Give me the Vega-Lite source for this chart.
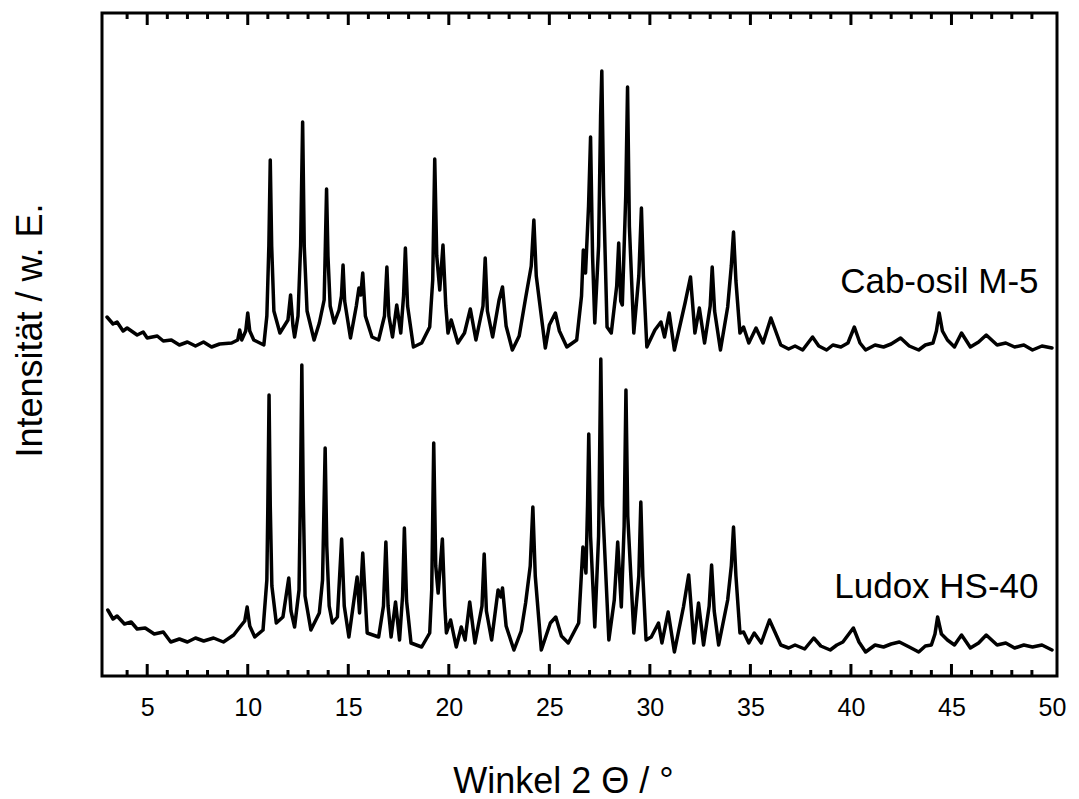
{
  "$schema": "https://vega.github.io/schema/vega-lite/v6.json",
  "width": 955,
  "height": 663,
  "autosize": "none",
  "padding": {"left": 102, "top": 13, "right": 22, "bottom": 123},
  "background": "white",
  "config": {"view": {"stroke": "black", "strokeWidth": 3}, "font": "Liberation Sans"},
  "encoding": {
    "x": {
      "field": "angle", "type": "quantitative",
      "scale": {"domain": [3, 50], "nice": false, "zero": false},
      "axis": {
        "orient": "bottom", "values": [5,10,15,20,25,30,35,40,45,50],
        "domain": false, "grid": false, "ticks": false,
        "labelFontSize": 25, "labelColor": "black", "labelPadding": 19, "labelFont": "Liberation Sans",
        "title": "Winkel 2 Θ / °", "titleFontSize": 36, "titleFontWeight": "normal", "titleColor": "black",
        "titleFont": "Liberation Sans", "titleX": 461, "titleY": 116, "titleBaseline": "alphabetic", "titleAlign": "center"
      }
    },
    "y": {
      "field": "value", "type": "quantitative",
      "scale": {"domain": [0, 663], "nice": false, "zero": false},
      "axis": {
        "orient": "left", "domain": false, "grid": false, "ticks": false, "labels": false,
        "title": "Intensität / w. E.", "titleFontSize": 36, "titleFontWeight": "normal", "titleColor": "black",
        "titleFont": "Liberation Sans", "titleX": -72, "titleY": 317, "titleBaseline": "middle", "titleAlign": "center", "titleAngle": -90
      }
    }
  },
  "layer": [
    {
      "data": {"values": [
      {"sample":"C","angle":3.0,"value":359},{"sample":"C","angle":3.3,"value":352},{"sample":"C","angle":3.5,"value":354},{"sample":"C","angle":3.8,"value":345},{"sample":"C","angle":4.0,"value":348},{"sample":"C","angle":4.5,"value":341},{"sample":"C","angle":4.8,"value":344},{"sample":"C","angle":5.0,"value":338},{"sample":"C","angle":5.5,"value":340},{"sample":"C","angle":5.8,"value":335},{"sample":"C","angle":6.2,"value":336},{"sample":"C","angle":6.6,"value":331},{"sample":"C","angle":7.0,"value":334},{"sample":"C","angle":7.4,"value":330},{"sample":"C","angle":7.8,"value":334},{"sample":"C","angle":8.2,"value":329},{"sample":"C","angle":8.6,"value":332},{"sample":"C","angle":9.2,"value":333},{"sample":"C","angle":9.5,"value":336},{"sample":"C","angle":9.6,"value":346},{"sample":"C","angle":9.7,"value":336},{"sample":"C","angle":9.9,"value":345},{"sample":"C","angle":10.0,"value":363},{"sample":"C","angle":10.1,"value":345},{"sample":"C","angle":10.3,"value":336},{"sample":"C","angle":10.8,"value":331},{"sample":"C","angle":10.95,"value":360},{"sample":"C","angle":11.05,"value":430},{"sample":"C","angle":11.12,"value":516},{"sample":"C","angle":11.19,"value":430},{"sample":"C","angle":11.3,"value":365},{"sample":"C","angle":11.6,"value":343},{"sample":"C","angle":12.0,"value":356},{"sample":"C","angle":12.13,"value":381},{"sample":"C","angle":12.25,"value":350},{"sample":"C","angle":12.33,"value":339},{"sample":"C","angle":12.5,"value":360},{"sample":"C","angle":12.63,"value":430},{"sample":"C","angle":12.73,"value":554},{"sample":"C","angle":12.81,"value":430},{"sample":"C","angle":12.95,"value":365},{"sample":"C","angle":13.3,"value":336},{"sample":"C","angle":13.56,"value":353},{"sample":"C","angle":13.8,"value":376},{"sample":"C","angle":13.86,"value":430},{"sample":"C","angle":13.92,"value":487},{"sample":"C","angle":13.99,"value":420},{"sample":"C","angle":14.1,"value":370},{"sample":"C","angle":14.3,"value":353},{"sample":"C","angle":14.54,"value":366},{"sample":"C","angle":14.66,"value":380},{"sample":"C","angle":14.74,"value":411},{"sample":"C","angle":14.82,"value":375},{"sample":"C","angle":15.11,"value":338},{"sample":"C","angle":15.4,"value":370},{"sample":"C","angle":15.53,"value":388},{"sample":"C","angle":15.62,"value":381},{"sample":"C","angle":15.72,"value":403},{"sample":"C","angle":15.85,"value":360},{"sample":"C","angle":16.18,"value":339},{"sample":"C","angle":16.51,"value":336},{"sample":"C","angle":16.8,"value":360},{"sample":"C","angle":16.92,"value":409},{"sample":"C","angle":17.02,"value":360},{"sample":"C","angle":17.2,"value":339},{"sample":"C","angle":17.41,"value":371},{"sample":"C","angle":17.61,"value":343},{"sample":"C","angle":17.75,"value":380},{"sample":"C","angle":17.84,"value":428},{"sample":"C","angle":17.95,"value":370},{"sample":"C","angle":18.24,"value":329},{"sample":"C","angle":18.65,"value":333},{"sample":"C","angle":19.05,"value":349},{"sample":"C","angle":19.2,"value":396},{"sample":"C","angle":19.3,"value":517},{"sample":"C","angle":19.4,"value":420},{"sample":"C","angle":19.55,"value":386},{"sample":"C","angle":19.71,"value":431},{"sample":"C","angle":19.85,"value":370},{"sample":"C","angle":19.96,"value":343},{"sample":"C","angle":20.12,"value":356},{"sample":"C","angle":20.45,"value":333},{"sample":"C","angle":20.78,"value":343},{"sample":"C","angle":21.07,"value":367},{"sample":"C","angle":21.35,"value":336},{"sample":"C","angle":21.7,"value":370},{"sample":"C","angle":21.81,"value":418},{"sample":"C","angle":21.92,"value":365},{"sample":"C","angle":22.18,"value":339},{"sample":"C","angle":22.5,"value":376},{"sample":"C","angle":22.67,"value":389},{"sample":"C","angle":22.85,"value":350},{"sample":"C","angle":23.16,"value":326},{"sample":"C","angle":23.5,"value":340},{"sample":"C","angle":23.82,"value":378},{"sample":"C","angle":24.1,"value":410},{"sample":"C","angle":24.23,"value":456},{"sample":"C","angle":24.35,"value":400},{"sample":"C","angle":24.8,"value":328},{"sample":"C","angle":25.0,"value":351},{"sample":"C","angle":25.3,"value":363},{"sample":"C","angle":25.5,"value":345},{"sample":"C","angle":25.87,"value":329},{"sample":"C","angle":26.36,"value":336},{"sample":"C","angle":26.6,"value":380},{"sample":"C","angle":26.69,"value":426},{"sample":"C","angle":26.8,"value":403},{"sample":"C","angle":26.95,"value":470},{"sample":"C","angle":27.05,"value":539},{"sample":"C","angle":27.15,"value":420},{"sample":"C","angle":27.26,"value":353},{"sample":"C","angle":27.45,"value":430},{"sample":"C","angle":27.55,"value":560},{"sample":"C","angle":27.61,"value":605},{"sample":"C","angle":27.7,"value":480},{"sample":"C","angle":27.87,"value":349},{"sample":"C","angle":28.08,"value":343},{"sample":"C","angle":28.35,"value":390},{"sample":"C","angle":28.45,"value":433},{"sample":"C","angle":28.55,"value":375},{"sample":"C","angle":28.63,"value":371},{"sample":"C","angle":28.8,"value":480},{"sample":"C","angle":28.89,"value":589},{"sample":"C","angle":28.98,"value":450},{"sample":"C","angle":29.2,"value":343},{"sample":"C","angle":29.45,"value":400},{"sample":"C","angle":29.58,"value":468},{"sample":"C","angle":29.68,"value":400},{"sample":"C","angle":29.85,"value":329},{"sample":"C","angle":30.25,"value":346},{"sample":"C","angle":30.55,"value":354},{"sample":"C","angle":30.73,"value":339},{"sample":"C","angle":30.96,"value":363},{"sample":"C","angle":31.22,"value":326},{"sample":"C","angle":31.75,"value":373},{"sample":"C","angle":32.02,"value":399},{"sample":"C","angle":32.24,"value":343},{"sample":"C","angle":32.46,"value":368},{"sample":"C","angle":32.72,"value":333},{"sample":"C","angle":33.0,"value":370},{"sample":"C","angle":33.1,"value":409},{"sample":"C","angle":33.22,"value":365},{"sample":"C","angle":33.51,"value":326},{"sample":"C","angle":33.87,"value":369},{"sample":"C","angle":34.05,"value":410},{"sample":"C","angle":34.16,"value":444},{"sample":"C","angle":34.28,"value":395},{"sample":"C","angle":34.48,"value":343},{"sample":"C","angle":34.66,"value":349},{"sample":"C","angle":34.92,"value":333},{"sample":"C","angle":35.28,"value":348},{"sample":"C","angle":35.63,"value":333},{"sample":"C","angle":36.02,"value":358},{"sample":"C","angle":36.51,"value":331},{"sample":"C","angle":36.9,"value":327},{"sample":"C","angle":37.22,"value":330},{"sample":"C","angle":37.6,"value":326},{"sample":"C","angle":38.09,"value":339},{"sample":"C","angle":38.4,"value":330},{"sample":"C","angle":38.79,"value":326},{"sample":"C","angle":39.1,"value":331},{"sample":"C","angle":39.5,"value":329},{"sample":"C","angle":39.85,"value":333},{"sample":"C","angle":40.17,"value":349},{"sample":"C","angle":40.45,"value":333},{"sample":"C","angle":40.73,"value":326},{"sample":"C","angle":41.2,"value":331},{"sample":"C","angle":41.62,"value":329},{"sample":"C","angle":42.0,"value":332},{"sample":"C","angle":42.47,"value":338},{"sample":"C","angle":42.9,"value":330},{"sample":"C","angle":43.37,"value":326},{"sample":"C","angle":43.7,"value":331},{"sample":"C","angle":44.08,"value":333},{"sample":"C","angle":44.25,"value":345},{"sample":"C","angle":44.39,"value":363},{"sample":"C","angle":44.55,"value":345},{"sample":"C","angle":44.8,"value":336},{"sample":"C","angle":45.15,"value":329},{"sample":"C","angle":45.5,"value":343},{"sample":"C","angle":45.94,"value":329},{"sample":"C","angle":46.35,"value":334},{"sample":"C","angle":46.73,"value":341},{"sample":"C","angle":47.27,"value":331},{"sample":"C","angle":47.7,"value":333},{"sample":"C","angle":48.14,"value":329},{"sample":"C","angle":48.6,"value":331},{"sample":"C","angle":49.03,"value":326},{"sample":"C","angle":49.5,"value":330},{"sample":"C","angle":50,"value":328},
      {"sample":"L","angle":3.04,"value":66},{"sample":"L","angle":3.3,"value":57},{"sample":"L","angle":3.5,"value":60},{"sample":"L","angle":3.87,"value":52},{"sample":"L","angle":4.2,"value":54},{"sample":"L","angle":4.5,"value":47},{"sample":"L","angle":4.9,"value":48},{"sample":"L","angle":5.35,"value":42},{"sample":"L","angle":5.8,"value":44},{"sample":"L","angle":6.17,"value":34},{"sample":"L","angle":6.6,"value":37},{"sample":"L","angle":7.0,"value":34},{"sample":"L","angle":7.4,"value":38},{"sample":"L","angle":7.81,"value":35},{"sample":"L","angle":8.3,"value":38},{"sample":"L","angle":8.79,"value":34},{"sample":"L","angle":9.3,"value":41},{"sample":"L","angle":9.61,"value":49},{"sample":"L","angle":9.85,"value":55},{"sample":"L","angle":9.97,"value":69},{"sample":"L","angle":10.1,"value":50},{"sample":"L","angle":10.35,"value":39},{"sample":"L","angle":10.76,"value":46},{"sample":"L","angle":10.95,"value":96},{"sample":"L","angle":11.0,"value":170},{"sample":"L","angle":11.06,"value":281},{"sample":"L","angle":11.12,"value":170},{"sample":"L","angle":11.2,"value":90},{"sample":"L","angle":11.42,"value":53},{"sample":"L","angle":11.75,"value":59},{"sample":"L","angle":12.04,"value":98},{"sample":"L","angle":12.15,"value":65},{"sample":"L","angle":12.33,"value":49},{"sample":"L","angle":12.55,"value":86},{"sample":"L","angle":12.62,"value":180},{"sample":"L","angle":12.69,"value":311},{"sample":"L","angle":12.76,"value":180},{"sample":"L","angle":12.85,"value":80},{"sample":"L","angle":13.14,"value":46},{"sample":"L","angle":13.56,"value":63},{"sample":"L","angle":13.72,"value":96},{"sample":"L","angle":13.85,"value":228},{"sample":"L","angle":13.93,"value":130},{"sample":"L","angle":14.05,"value":70},{"sample":"L","angle":14.21,"value":53},{"sample":"L","angle":14.46,"value":59},{"sample":"L","angle":14.67,"value":137},{"sample":"L","angle":14.8,"value":70},{"sample":"L","angle":15.03,"value":39},{"sample":"L","angle":15.44,"value":99},{"sample":"L","angle":15.56,"value":63},{"sample":"L","angle":15.72,"value":123},{"sample":"L","angle":15.94,"value":43},{"sample":"L","angle":16.51,"value":39},{"sample":"L","angle":16.75,"value":70},{"sample":"L","angle":16.87,"value":134},{"sample":"L","angle":16.98,"value":70},{"sample":"L","angle":17.13,"value":39},{"sample":"L","angle":17.35,"value":74},{"sample":"L","angle":17.55,"value":36},{"sample":"L","angle":17.7,"value":80},{"sample":"L","angle":17.79,"value":148},{"sample":"L","angle":17.9,"value":75},{"sample":"L","angle":18.12,"value":33},{"sample":"L","angle":18.65,"value":29},{"sample":"L","angle":19.05,"value":43},{"sample":"L","angle":19.15,"value":86},{"sample":"L","angle":19.25,"value":233},{"sample":"L","angle":19.35,"value":110},{"sample":"L","angle":19.47,"value":83},{"sample":"L","angle":19.68,"value":137},{"sample":"L","angle":19.8,"value":70},{"sample":"L","angle":19.88,"value":43},{"sample":"L","angle":20.09,"value":56},{"sample":"L","angle":20.37,"value":29},{"sample":"L","angle":20.62,"value":49},{"sample":"L","angle":20.81,"value":36},{"sample":"L","angle":21.04,"value":74},{"sample":"L","angle":21.3,"value":33},{"sample":"L","angle":21.65,"value":70},{"sample":"L","angle":21.76,"value":122},{"sample":"L","angle":21.87,"value":65},{"sample":"L","angle":22.13,"value":36},{"sample":"L","angle":22.45,"value":86},{"sample":"L","angle":22.59,"value":79},{"sample":"L","angle":22.67,"value":88},{"sample":"L","angle":22.85,"value":50},{"sample":"L","angle":23.24,"value":26},{"sample":"L","angle":23.6,"value":45},{"sample":"L","angle":23.82,"value":73},{"sample":"L","angle":24.05,"value":110},{"sample":"L","angle":24.18,"value":169},{"sample":"L","angle":24.3,"value":100},{"sample":"L","angle":24.6,"value":26},{"sample":"L","angle":25.05,"value":53},{"sample":"L","angle":25.32,"value":59},{"sample":"L","angle":25.6,"value":40},{"sample":"L","angle":25.94,"value":33},{"sample":"L","angle":26.46,"value":53},{"sample":"L","angle":26.67,"value":129},{"sample":"L","angle":26.82,"value":103},{"sample":"L","angle":26.9,"value":170},{"sample":"L","angle":26.96,"value":242},{"sample":"L","angle":27.05,"value":140},{"sample":"L","angle":27.26,"value":49},{"sample":"L","angle":27.45,"value":140},{"sample":"L","angle":27.56,"value":317},{"sample":"L","angle":27.65,"value":170},{"sample":"L","angle":27.96,"value":36},{"sample":"L","angle":28.23,"value":76},{"sample":"L","angle":28.4,"value":134},{"sample":"L","angle":28.58,"value":69},{"sample":"L","angle":28.72,"value":150},{"sample":"L","angle":28.81,"value":286},{"sample":"L","angle":28.9,"value":160},{"sample":"L","angle":29.2,"value":43},{"sample":"L","angle":29.45,"value":100},{"sample":"L","angle":29.55,"value":174},{"sample":"L","angle":29.65,"value":100},{"sample":"L","angle":29.81,"value":36},{"sample":"L","angle":30.07,"value":39},{"sample":"L","angle":30.43,"value":53},{"sample":"L","angle":30.6,"value":33},{"sample":"L","angle":30.91,"value":64},{"sample":"L","angle":31.22,"value":24},{"sample":"L","angle":31.67,"value":69},{"sample":"L","angle":31.93,"value":101},{"sample":"L","angle":32.19,"value":33},{"sample":"L","angle":32.42,"value":73},{"sample":"L","angle":32.67,"value":31},{"sample":"L","angle":32.95,"value":70},{"sample":"L","angle":33.07,"value":111},{"sample":"L","angle":33.2,"value":65},{"sample":"L","angle":33.42,"value":31},{"sample":"L","angle":33.87,"value":76},{"sample":"L","angle":34.05,"value":110},{"sample":"L","angle":34.16,"value":149},{"sample":"L","angle":34.28,"value":100},{"sample":"L","angle":34.48,"value":43},{"sample":"L","angle":34.66,"value":44},{"sample":"L","angle":34.92,"value":33},{"sample":"L","angle":35.19,"value":43},{"sample":"L","angle":35.54,"value":33},{"sample":"L","angle":35.95,"value":56},{"sample":"L","angle":36.51,"value":31},{"sample":"L","angle":36.9,"value":28},{"sample":"L","angle":37.22,"value":31},{"sample":"L","angle":37.7,"value":27},{"sample":"L","angle":38.15,"value":38},{"sample":"L","angle":38.5,"value":30},{"sample":"L","angle":38.97,"value":26},{"sample":"L","angle":39.3,"value":31},{"sample":"L","angle":39.6,"value":34},{"sample":"L","angle":40.12,"value":48},{"sample":"L","angle":40.4,"value":34},{"sample":"L","angle":40.73,"value":24},{"sample":"L","angle":41.2,"value":31},{"sample":"L","angle":41.62,"value":29},{"sample":"L","angle":42.0,"value":32},{"sample":"L","angle":42.41,"value":34},{"sample":"L","angle":42.9,"value":29},{"sample":"L","angle":43.37,"value":24},{"sample":"L","angle":43.7,"value":30},{"sample":"L","angle":44.0,"value":31},{"sample":"L","angle":44.18,"value":42},{"sample":"L","angle":44.31,"value":59},{"sample":"L","angle":44.5,"value":42},{"sample":"L","angle":44.8,"value":36},{"sample":"L","angle":45.15,"value":31},{"sample":"L","angle":45.5,"value":41},{"sample":"L","angle":45.94,"value":28},{"sample":"L","angle":46.35,"value":33},{"sample":"L","angle":46.73,"value":41},{"sample":"L","angle":47.27,"value":31},{"sample":"L","angle":47.7,"value":33},{"sample":"L","angle":48.14,"value":28},{"sample":"L","angle":48.6,"value":31},{"sample":"L","angle":49.03,"value":29},{"sample":"L","angle":49.5,"value":31},{"sample":"L","angle":50,"value":26}
      ]},
      "mark": {"type": "line", "color": "black", "strokeWidth": 3.5, "strokeJoin": "round", "strokeCap": "round"},
      "encoding": {
        "detail": {"field": "sample", "type": "nominal"}
      }
    },
    {
      "data": {"values": [
        {"label": "Cab-osil M-5", "angle": 49.33, "value": 383},
        {"label": "Ludox HS-40", "angle": 49.33, "value": 78}
      ]},
      "mark": {"type": "text", "align": "right", "baseline": "alphabetic", "fontSize": 35, "font": "Liberation Sans", "color": "black"},
      "encoding": {
        "text": {"field": "label"}
      }
    },
    {
      "data": {"values": [
        {"angle":5,"value":0,"value2":12},{"angle":10,"value":0,"value2":12},{"angle":15,"value":0,"value2":12},{"angle":20,"value":0,"value2":12},{"angle":25,"value":0,"value2":12},{"angle":30,"value":0,"value2":12},{"angle":35,"value":0,"value2":12},{"angle":40,"value":0,"value2":12},{"angle":45,"value":0,"value2":12},
        {"angle":5,"value":651,"value2":663},{"angle":10,"value":651,"value2":663},{"angle":15,"value":651,"value2":663},{"angle":20,"value":651,"value2":663},{"angle":25,"value":651,"value2":663},{"angle":30,"value":651,"value2":663},{"angle":35,"value":651,"value2":663},{"angle":40,"value":651,"value2":663},{"angle":45,"value":651,"value2":663},
        {"angle":4,"value":0,"value2":6},{"angle":6,"value":0,"value2":6},{"angle":7,"value":0,"value2":6},{"angle":8,"value":0,"value2":6},{"angle":9,"value":0,"value2":6},{"angle":11,"value":0,"value2":6},{"angle":12,"value":0,"value2":6},{"angle":13,"value":0,"value2":6},{"angle":14,"value":0,"value2":6},{"angle":16,"value":0,"value2":6},{"angle":17,"value":0,"value2":6},{"angle":18,"value":0,"value2":6},{"angle":19,"value":0,"value2":6},{"angle":21,"value":0,"value2":6},{"angle":22,"value":0,"value2":6},{"angle":23,"value":0,"value2":6},{"angle":24,"value":0,"value2":6},{"angle":26,"value":0,"value2":6},{"angle":27,"value":0,"value2":6},{"angle":28,"value":0,"value2":6},{"angle":29,"value":0,"value2":6},{"angle":31,"value":0,"value2":6},{"angle":32,"value":0,"value2":6},{"angle":33,"value":0,"value2":6},{"angle":34,"value":0,"value2":6},{"angle":36,"value":0,"value2":6},{"angle":37,"value":0,"value2":6},{"angle":38,"value":0,"value2":6},{"angle":39,"value":0,"value2":6},{"angle":41,"value":0,"value2":6},{"angle":42,"value":0,"value2":6},{"angle":43,"value":0,"value2":6},{"angle":44,"value":0,"value2":6},{"angle":46,"value":0,"value2":6},{"angle":47,"value":0,"value2":6},{"angle":48,"value":0,"value2":6},{"angle":49,"value":0,"value2":6},
        {"angle":4,"value":657,"value2":663},{"angle":6,"value":657,"value2":663},{"angle":7,"value":657,"value2":663},{"angle":8,"value":657,"value2":663},{"angle":9,"value":657,"value2":663},{"angle":11,"value":657,"value2":663},{"angle":12,"value":657,"value2":663},{"angle":13,"value":657,"value2":663},{"angle":14,"value":657,"value2":663},{"angle":16,"value":657,"value2":663},{"angle":17,"value":657,"value2":663},{"angle":18,"value":657,"value2":663},{"angle":19,"value":657,"value2":663},{"angle":21,"value":657,"value2":663},{"angle":22,"value":657,"value2":663},{"angle":23,"value":657,"value2":663},{"angle":24,"value":657,"value2":663},{"angle":26,"value":657,"value2":663},{"angle":27,"value":657,"value2":663},{"angle":28,"value":657,"value2":663},{"angle":29,"value":657,"value2":663},{"angle":31,"value":657,"value2":663},{"angle":32,"value":657,"value2":663},{"angle":33,"value":657,"value2":663},{"angle":34,"value":657,"value2":663},{"angle":36,"value":657,"value2":663},{"angle":37,"value":657,"value2":663},{"angle":38,"value":657,"value2":663},{"angle":39,"value":657,"value2":663},{"angle":41,"value":657,"value2":663},{"angle":42,"value":657,"value2":663},{"angle":43,"value":657,"value2":663},{"angle":44,"value":657,"value2":663},{"angle":46,"value":657,"value2":663},{"angle":47,"value":657,"value2":663},{"angle":48,"value":657,"value2":663},{"angle":49,"value":657,"value2":663}
      ]},
      "mark": {"type": "bar", "color": "#000000", "size": 3, "opacity": 1},
      "encoding": {
        "y2": {"field": "value2"}
      }
    }
  ]
}
